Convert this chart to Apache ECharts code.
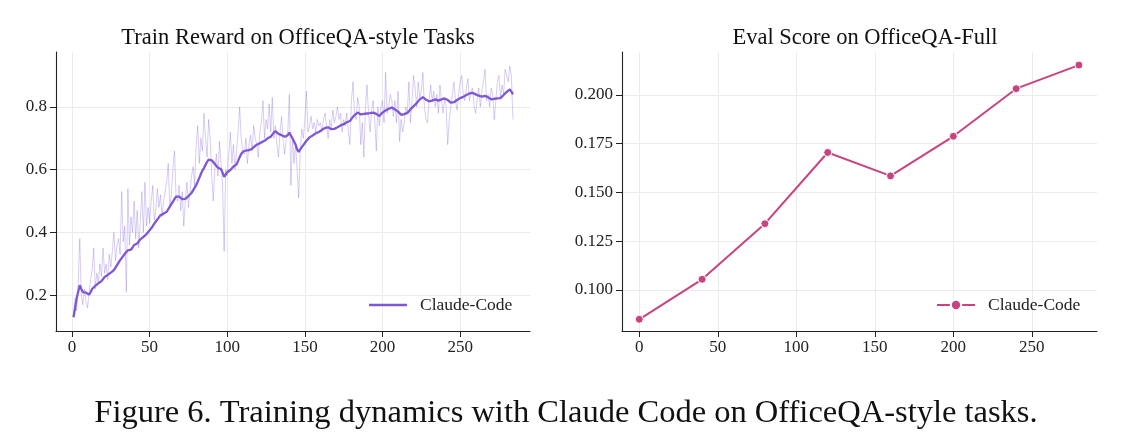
<!DOCTYPE html>
<html>
<head>
<meta charset="utf-8">
<script src="https://cdn.jsdelivr.net/npm/echarts@6/dist/echarts.min.js"></script>
<style>
  html, body { margin: 0; padding: 0; background: #fff; }
  #chart { width: 1121px; height: 445px; }
</style>
</head>
<body>
<div id="chart"></div>
<script>
// train reward, raw per step (steps 1..284)
var trainRaw = [
    0.13, 0.19, 0.15, 0.24, 0.38, 0.20, 0.17, 0.22, 0.18, 0.16,
    0.16, 0.25, 0.28, 0.35, 0.22, 0.27, 0.24, 0.30, 0.26, 0.35,
    0.27, 0.30, 0.25, 0.33, 0.29, 0.34, 0.40, 0.31, 0.36, 0.38,
    0.33, 0.53, 0.37, 0.42, 0.21, 0.54, 0.36, 0.45, 0.40, 0.50,
    0.38, 0.47, 0.35, 0.44, 0.53, 0.40, 0.56, 0.42, 0.48, 0.43,
    0.50, 0.55, 0.44, 0.47, 0.54, 0.48, 0.52, 0.45, 0.50, 0.53,
    0.56, 0.62, 0.48, 0.52, 0.60, 0.66, 0.52, 0.50, 0.55, 0.47,
    0.53, 0.42, 0.50, 0.56, 0.48, 0.53, 0.58, 0.61, 0.55, 0.68,
    0.74, 0.62, 0.70, 0.66, 0.78, 0.70, 0.64, 0.76, 0.70, 0.58,
    0.50, 0.60, 0.65, 0.58, 0.69, 0.62, 0.55, 0.34, 0.60, 0.58,
    0.65, 0.72, 0.62, 0.68, 0.60, 0.66, 0.72, 0.80, 0.70, 0.66,
    0.65, 0.70, 0.62, 0.68, 0.71, 0.66, 0.74, 0.70, 0.68, 0.64,
    0.72, 0.75, 0.82, 0.70, 0.76, 0.73, 0.81, 0.72, 0.83, 0.70,
    0.74, 0.68, 0.64, 0.72, 0.77, 0.69, 0.65, 0.70, 0.72, 0.84,
    0.55, 0.70, 0.62, 0.68, 0.60, 0.51, 0.66, 0.73, 0.70, 0.76,
    0.85, 0.72, 0.74, 0.77, 0.73, 0.75, 0.72, 0.76, 0.74, 0.75,
    0.72, 0.76, 0.78, 0.74, 0.70, 0.76, 0.73, 0.79, 0.75, 0.77,
    0.80, 0.76, 0.78, 0.72, 0.76, 0.74, 0.78, 0.72, 0.68, 0.82,
    0.88, 0.78, 0.76, 0.83, 0.80, 0.68, 0.75, 0.64, 0.80, 0.87,
    0.78, 0.72, 0.79, 0.82, 0.76, 0.66, 0.80, 0.74, 0.80, 0.82,
    0.75, 0.91, 0.78, 0.80, 0.84, 0.82, 0.77, 0.82, 0.75, 0.85,
    0.69, 0.76, 0.72, 0.75, 0.80, 0.78, 0.88, 0.75, 0.82, 0.90,
    0.86, 0.80, 0.88, 0.83, 0.85, 0.91, 0.80, 0.76, 0.75, 0.82,
    0.87, 0.82, 0.85, 0.80, 0.84, 0.78, 0.87, 0.82, 0.78, 0.83,
    0.80, 0.68, 0.76, 0.80, 0.84, 0.88, 0.82, 0.79, 0.84, 0.88,
    0.90, 0.84, 0.82, 0.86, 0.89, 0.82, 0.85, 0.86, 0.80, 0.78,
    0.83, 0.86, 0.80, 0.85, 0.88, 0.92, 0.82, 0.84, 0.80, 0.86,
    0.84, 0.76, 0.82, 0.88, 0.90, 0.83, 0.87, 0.84, 0.92, 0.90,
    0.88, 0.93, 0.90, 0.76
];

// train reward, smoothed curve (same steps)
var trainSmooth = [
    0.130, 0.160, 0.190, 0.190, 0.232, 0.220, 0.210, 0.210, 0.208, 0.205,
    0.202, 0.210, 0.220, 0.226, 0.230, 0.235, 0.238, 0.242, 0.245, 0.250,
    0.258, 0.264, 0.265, 0.268, 0.272, 0.276, 0.280, 0.288, 0.296, 0.304,
    0.312, 0.318, 0.325, 0.332, 0.338, 0.343, 0.349, 0.345, 0.352, 0.360,
    0.365, 0.365, 0.370, 0.378, 0.383, 0.386, 0.390, 0.395, 0.400, 0.407,
    0.413, 0.420, 0.428, 0.435, 0.440, 0.448, 0.455, 0.458, 0.460, 0.463,
    0.466, 0.474, 0.482, 0.490, 0.498, 0.506, 0.514, 0.516, 0.514, 0.510,
    0.506, 0.503, 0.507, 0.512, 0.516, 0.519, 0.526, 0.534, 0.543, 0.551,
    0.562, 0.574, 0.586, 0.597, 0.605, 0.615, 0.625, 0.632, 0.633, 0.630,
    0.625, 0.618, 0.612, 0.606, 0.604, 0.602, 0.590, 0.577, 0.585, 0.592,
    0.597, 0.599, 0.605, 0.610, 0.614, 0.617, 0.628, 0.640, 0.650, 0.657,
    0.660, 0.661, 0.660, 0.662, 0.662, 0.667, 0.672, 0.676, 0.678, 0.682,
    0.685, 0.687, 0.689, 0.692, 0.696, 0.700, 0.703, 0.705, 0.712, 0.718,
    0.723, 0.718, 0.714, 0.711, 0.710, 0.707, 0.705, 0.704, 0.710, 0.718,
    0.712, 0.700, 0.690, 0.680, 0.665, 0.657, 0.665, 0.672, 0.678, 0.685,
    0.692, 0.698, 0.703, 0.706, 0.709, 0.712, 0.716, 0.718, 0.720, 0.724,
    0.727, 0.730, 0.733, 0.734, 0.735, 0.732, 0.729, 0.727, 0.730, 0.733,
    0.735, 0.737, 0.741, 0.744, 0.745, 0.748, 0.751, 0.753, 0.755, 0.762,
    0.768, 0.774, 0.779, 0.782, 0.779, 0.776, 0.775, 0.778, 0.780, 0.779,
    0.780, 0.780, 0.781, 0.782, 0.782, 0.778, 0.774, 0.771, 0.776, 0.782,
    0.786, 0.789, 0.790, 0.794, 0.797, 0.798, 0.797, 0.792, 0.788, 0.785,
    0.779, 0.775, 0.774, 0.777, 0.779, 0.781, 0.787, 0.792, 0.796, 0.802,
    0.808, 0.812, 0.818, 0.824, 0.829, 0.831, 0.828, 0.823, 0.820, 0.818,
    0.817, 0.820, 0.823, 0.824, 0.822, 0.820, 0.819, 0.824, 0.829, 0.827,
    0.824, 0.822, 0.818, 0.814, 0.812, 0.815, 0.819, 0.822, 0.825, 0.828,
    0.829, 0.832, 0.835, 0.838, 0.840, 0.843, 0.845, 0.845, 0.842, 0.840,
    0.838, 0.836, 0.834, 0.833, 0.834, 0.835, 0.835, 0.831, 0.827, 0.824,
    0.825, 0.826, 0.827, 0.827, 0.827, 0.828, 0.833, 0.838, 0.843, 0.848,
    0.853, 0.856, 0.849, 0.840
];

// eval score
var evalSteps = [0, 40, 80, 120, 160, 200, 240, 280];
var evalScore = [0.085, 0.1055, 0.134, 0.1705, 0.1585, 0.1788, 0.2032, 0.2153];

// tick labels
var trainXTicks = [0, 50, 100, 150, 200, 250];
var trainYTicks = [0.2, 0.4, 0.6, 0.8];
var evalXTicks = [0, 50, 100, 150, 200, 250];
var evalYTicks = [0.100, 0.125, 0.150, 0.175, 0.200];

var serif = '"Liberation Serif", "DejaVu Serif", serif';
var purple = '#7e57d6';
var pink = '#c8447f';

function pairs(xs, ys) {
    var out = [];
    for (var i = 0; i < ys.length; i++) out.push([xs[i], ys[i]]);
    return out;
}
var trainSteps = trainRaw.map(function (v, i) { return i + 1; });

function xAxis(idx, min, max, ticks) {
    return {
        type: 'value', gridIndex: idx, min: min, max: max,
        axisLine: { show: true, onZero: false, lineStyle: { color: '#222', width: 1.1 } },
        axisTick: { show: true, length: 6, customValues: ticks, lineStyle: { color: '#222' } },
        axisLabel: { customValues: ticks, color: '#222', fontFamily: serif, fontSize: 17, margin: 8 },
        splitLine: { show: true, lineStyle: { color: '#ebebeb', width: 1 } }
    };
}
function yAxis(idx, min, max, ticks, digits) {
    return {
        type: 'value', gridIndex: idx, min: min, max: max,
        axisLine: { show: true, onZero: false, lineStyle: { color: '#222', width: 1.1 } },
        axisTick: { show: true, length: 6, customValues: ticks, lineStyle: { color: '#222' } },
        axisLabel: {
            customValues: ticks, color: '#222', fontFamily: serif, fontSize: 17, margin: 9,
            formatter: function (v) { return v.toFixed(digits); }
        },
        splitLine: { show: true, lineStyle: { color: '#ebebeb', width: 1 } }
    };
}

var myChart = echarts.init(document.getElementById('chart'), null, { renderer: 'canvas' });

var option = {
    animation: false,
    backgroundColor: '#fff',
    title: [
        { text: 'Train Reward on OfficeQA-style Tasks', left: 293, top: 22, textAlign: 'center',
          textStyle: { fontFamily: serif, fontSize: 22.5, fontWeight: 'normal', color: '#111' } },
        { text: 'Eval Score on OfficeQA-Full', left: 860, top: 22, textAlign: 'center',
          textStyle: { fontFamily: serif, fontSize: 22.5, fontWeight: 'normal', color: '#111' } },
        { text: 'Figure 6. Training dynamics with Claude Code on OfficeQA-style tasks.', left: 561, top: 392,
          textAlign: 'center',
          textStyle: { fontFamily: serif, fontSize: 32.5, fontWeight: 'normal', color: '#111' } }
    ],
    legend: [
        { data: [{ name: 'Claude-Code', icon: 'rect' }], left: 369, top: 296, padding: 0,
          itemWidth: 38, itemHeight: 2.4, selectedMode: false,
          textStyle: { fontFamily: serif, fontSize: 17.5, color: '#222', padding: [0, 0, 0, 8] } },
        { data: ['Claude-Code '], left: 936, top: 296, padding: 0,
          itemWidth: 38, itemHeight: 13, selectedMode: false,
          textStyle: { fontFamily: serif, fontSize: 17.5, color: '#222', padding: [0, 0, 0, 8] } }
    ],
    grid: [
        { left: 56, top: 52, width: 474, height: 279 },
        { left: 622, top: 52, width: 475, height: 279 }
    ],
    xAxis: [
        xAxis(0, -10.3, 295, trainXTicks),
        xAxis(1, -11, 291.5, evalXTicks)
    ],
    yAxis: [
        yAxis(0, 0.086, 0.975, trainYTicks, 1),
        yAxis(1, 0.079, 0.222, evalYTicks, 3)
    ],
    series: [
        {
            name: 'raw', type: 'line', xAxisIndex: 0, yAxisIndex: 0,
            data: pairs(trainSteps, trainRaw), showSymbol: false, symbol: 'none',
            lineStyle: { color: purple, width: 1, opacity: 0.3 }, z: 2
        },
        {
            name: 'Claude-Code', type: 'line', xAxisIndex: 0, yAxisIndex: 0,
            data: pairs(trainSteps, trainSmooth), showSymbol: false, symbol: 'none',
            itemStyle: { color: purple },
            lineStyle: { color: purple, width: 2.3 }, z: 3
        },
        {
            name: 'Claude-Code ', type: 'line', xAxisIndex: 1, yAxisIndex: 1,
            data: pairs(evalSteps, evalScore), symbol: 'circle', symbolSize: 8,
            itemStyle: { color: pink, borderColor: '#fff', borderWidth: 1 },
            lineStyle: { color: pink, width: 2 }, z: 3
        }
    ]
};

myChart.setOption(option);
</script>
</body>
</html>
